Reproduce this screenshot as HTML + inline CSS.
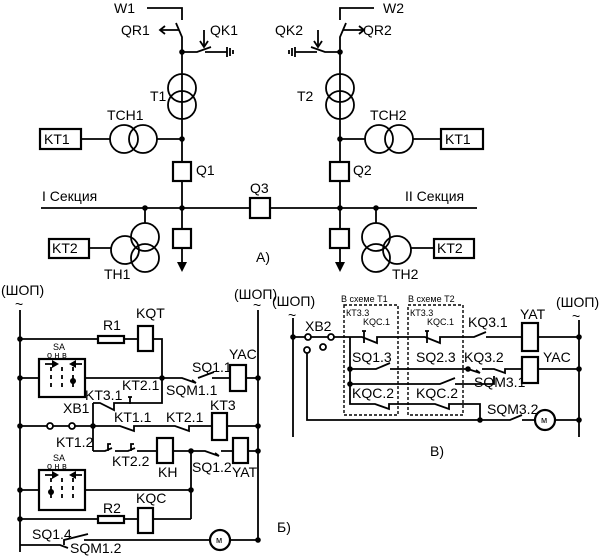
<!DOCTYPE html>
<html><head><meta charset="utf-8"><style>
html,body{margin:0;padding:0;background:#fff}
svg{display:block}
text{font-family:"Liberation Sans",sans-serif;font-size:14px;fill:#000}
.s{font-size:9px}
</style></head><body>
<svg width="600" height="557" viewBox="0 0 600 557" xmlns="http://www.w3.org/2000/svg">
<g stroke="#000" stroke-width="1.8" fill="none">
<!-- ===== A) ===== -->
<path d="M147 8 H182 V20"/>
<path d="M176 23 L182 37 V208"/>
<path d="M179 30 H161"/><path d="M165 26 L160 30 L165 34"/>
<path d="M204 30 V46"/><path d="M200 41 L204 47 L208 41"/>
<path d="M182 52 H197 L211 47 M205 52 H227"/><path d="M227 47 V57 M230 48 V56 M233 50 V54"/>
<circle cx="182" cy="88" r="14"/><circle cx="182" cy="105" r="14"/>
<path d="M81 139 H110 M157 139 H182"/>
<circle cx="124" cy="139" r="14"/><circle cx="143" cy="139" r="14"/>
<rect x="40" y="129" width="41" height="20" stroke-width="2.2"/>
<rect x="173" y="162" width="18" height="19" fill="#fff" stroke-width="2.2"/>
<path d="M41 208 H477"/>
<rect x="250" y="198" width="20" height="20" fill="#fff" stroke-width="2.2"/>
<path d="M182 208 V268"/>
<rect x="173" y="229" width="18" height="19" fill="#fff" stroke-width="2.2"/>
<path d="M145 208 V223"/>
<circle cx="145" cy="237" r="14"/><circle cx="125" cy="250" r="14"/><circle cx="145" cy="258" r="14"/>
<path d="M89 248 H111"/>
<rect x="49" y="239" width="40" height="19" stroke-width="2.2"/>
<!-- right -->
<path d="M374 8 H340 V20"/>
<path d="M346 23 L340 37 V208"/>
<path d="M343 30 H363"/><path d="M359 26 L364 30 L359 34"/>
<path d="M318 30 V46"/><path d="M314 41 L318 47 L322 41"/>
<path d="M340 52 H325 L311 47 M317 52 H295"/><path d="M295 47 V57 M292 48 V56 M289 50 V54"/>
<circle cx="340" cy="88" r="14"/><circle cx="340" cy="105" r="14"/>
<path d="M340 139 H365 M413 139 H441"/>
<circle cx="379" cy="139" r="14"/><circle cx="399" cy="139" r="14"/>
<rect x="441" y="129" width="42" height="20" stroke-width="2.2"/>
<rect x="330" y="162" width="19" height="19" fill="#fff" stroke-width="2.2"/>
<path d="M340 208 V268"/>
<rect x="330" y="229" width="19" height="19" fill="#fff" stroke-width="2.2"/>
<path d="M376 208 V223"/>
<circle cx="376" cy="237" r="14"/><circle cx="397" cy="250" r="14"/><circle cx="376" cy="258" r="14"/>
<path d="M411 248 H434"/>
<rect x="434" y="239" width="40" height="19" stroke-width="2.2"/>
</g>
<g fill="#000">
<path d="M177 262 L182 272 L187 262 Z"/><path d="M335 262 L340 272 L345 262 Z"/>
<circle cx="182" cy="52" r="2.8"/><circle cx="340" cy="52" r="2.8"/>
<circle cx="182" cy="139" r="2.8"/><circle cx="340" cy="139" r="2.8"/>
<circle cx="182" cy="208" r="2.8"/><circle cx="145" cy="208" r="2.8"/>
<circle cx="340" cy="208" r="2.8"/><circle cx="376" cy="208" r="2.8"/>
</g>
<text x="114" y="13">W1</text><text x="121" y="35">QR1</text><text x="210" y="35">QK1</text>
<text x="383" y="13">W2</text><text x="363" y="35">QR2</text><text x="275" y="35">QK2</text>
<text x="150" y="101">T1</text><text x="297" y="101">T2</text>
<text x="107" y="120">TCH1</text><text x="370" y="120">TCH2</text>
<text x="44" y="144">KT1</text><text x="445" y="144">KT1</text>
<text x="196" y="175">Q1</text><text x="353" y="175">Q2</text>
<text x="250" y="193">Q3</text>
<text x="42" y="201">I Секция</text><text x="405" y="201">II Секция</text>
<text x="52" y="253">KT2</text><text x="437" y="253">KT2</text>
<text x="104" y="279">TH1</text><text x="392" y="279">TH2</text>
<text x="256" y="262">A)</text>

<!-- ===== Б) ===== -->
<g stroke="#000" stroke-width="1.8" fill="none">
<path d="M20 310 V552"/><path d="M258 310 V540"/>
<path d="M20 339 H98 M124 339 H138 M153 339 H162 V403 H130"/>
<rect x="98" y="336" width="26" height="7" stroke-width="2.2"/>
<rect x="138" y="326" width="15" height="25" stroke-width="2.2"/>
<path d="M20 378 H39 M85 378 H182 L196 383 M192 380 L196 383 M198 378 L214 372 M212 378 H230 M246 378 H258"/>
<rect x="39" y="359" width="46" height="38" stroke-width="2.2"/>
<rect x="230" y="365" width="16" height="26" stroke-width="2.2"/>
<path d="M93 403 H100 L114 410 V403 H130"/>
<path d="M130 397 V404 M128 397 H132"/>
<path d="M93 403 V451"/>
<path d="M20 426 H47 M53 426 H69 M75 426 H120 L134 431 V426 H175 L189 431 V426 H212 M227 426 H258"/>
<circle cx="50" cy="426" r="3"/><circle cx="72" cy="426" r="3"/>
<rect x="212" y="413" width="15" height="27" stroke-width="2.2"/>
<path d="M93 451 H105 L112 448 M108 451 V444 H111 M115 451 H128 L135 448 M131 451 V444 H134 M137 451 H157 M173 451 H205 L219 456 M215 453 L219 456 M221 451 H233 M248 451 H258"/>
<rect x="157" y="438" width="16" height="25" stroke-width="2.2"/>
<rect x="233" y="438" width="15" height="25" stroke-width="2.2"/>
<path d="M191 451 V519"/>
<path d="M20 490 H39 M85 490 H191"/>
<rect x="39" y="470" width="46" height="40" stroke-width="2.2"/>
<path d="M20 519 H98 M124 519 H138 M153 519 H191"/>
<rect x="98" y="516" width="26" height="7" stroke-width="2.2"/>
<rect x="138" y="508" width="15" height="25" stroke-width="2.2"/>
<path d="M20 545 H60 L68 548 M64 545 V540 L88 534 M84 540 H210 M230 540 H258"/>
<circle cx="220" cy="540" r="10" stroke-width="2.2"/>
<path d="M45 364 H56 M73 364 H82 M51 367 V371 M51 375 V379 M51 383 V387 M62 367 V371 M62 375 V379 M62 383 V387 M73 367 V371 M73 375 V379 M73 383 V387"/>
<path d="M45 475 H56 M73 475 H82 M51 478 V482 M51 486 V490 M51 494 V498 M62 478 V482 M62 486 V490 M62 494 V498 M73 478 V482 M73 486 V490 M73 494 V498"/>
</g>
<g fill="#000">
<path d="M52 360 L59 364 L52 368Z"/><path d="M76 360 L69 364 L76 368Z"/>
<path d="M52 471 L59 475 L52 479Z"/><path d="M76 471 L69 475 L76 479Z"/>
<circle cx="73" cy="381" r="3"/><circle cx="51" cy="492" r="3"/>
<circle cx="20" cy="339" r="2.8"/><circle cx="20" cy="378" r="2.8"/><circle cx="20" cy="426" r="2.8"/>
<circle cx="20" cy="490" r="2.8"/><circle cx="20" cy="519" r="2.8"/>
<circle cx="162" cy="378" r="2.8"/><circle cx="93" cy="426" r="2.8"/>
<circle cx="191" cy="451" r="2.8"/><circle cx="191" cy="490" r="2.8"/>
<circle cx="258" cy="378" r="2.8"/><circle cx="258" cy="426" r="2.8"/><circle cx="258" cy="451" r="2.8"/><circle cx="258" cy="540" r="2.8"/>
</g>
<text x="1" y="295">(ШОП)</text><text x="15" y="309">~</text>
<text x="234" y="299">(ШОП)</text><text x="253" y="310">~</text>
<text x="103" y="330">R1</text><text x="136" y="318">KQT</text>
<text class="s" x="53" y="350">SA</text><text class="s" x="47" y="358">о н в</text>
<text x="229" y="359">YAC</text><text x="192" y="372">SQ1.1</text><text x="166" y="395">SQM1.1</text>
<text x="85" y="400">KT3.1</text><text x="122" y="390">KT2.1</text>
<text x="63" y="413">XB1</text>
<text x="114" y="422">KT1.1</text><text x="166" y="422">KT2.1</text><text x="210" y="410">KT3</text>
<text x="56" y="447">KT1.2</text><text x="112" y="466">KT2.2</text>
<text x="158" y="477">KH</text><text x="192" y="472">SQ1.2</text><text x="232" y="477">YAT</text>
<text class="s" x="53" y="461">SA</text><text class="s" x="47" y="469">о н в</text>
<text x="103" y="513">R2</text><text x="136" y="503">KQC</text>
<text x="32" y="539">SQ1.4</text><text x="70" y="553">SQM1.2</text>
<text class="s" x="216" y="543">м</text>
<text x="277" y="532">Б)</text>

<!-- ===== В) ===== -->
<g stroke="#000" stroke-width="1.8" fill="none">
<path d="M293 318 V437"/><path d="M579 320 V437"/>
<path d="M293 337 H305 M311 337 H328 M334 337 H362 L377 343 V337 H400 M400 337 H425 L440 343 V337 H474 L486 332 M486 337 H522 M538 337 H579"/>
<path d="M364 343 V331 M362 331 H366 M427 343 V331 M425 331 H429"/>
<circle cx="308" cy="337" r="3"/><circle cx="331" cy="337" r="3"/>
<circle cx="307" cy="350" r="3"/><circle cx="323" cy="347" r="3"/>
<rect x="522" y="323" width="16" height="28" stroke-width="2.2"/>
<path d="M350 337 V402"/>
<path d="M350 369 H376 L390 363 M390 369 H468 L480 373 M476 370 L480 373 M482 369 H494 L505 373 V369 H522 M538 369 H579"/>
<rect x="522" y="357" width="16" height="26" stroke-width="2.2"/>
<path d="M350 384 H440 L455 378 M455 384 H494 V376"/>
<path d="M350 402 V404 H375 L389 409 V404 H435 L449 409 V404 H480 V420"/>
<path d="M307 353 V420 H510 L522 415 M522 420 H535 M555 420 H579"/>
<circle cx="545" cy="420" r="10" stroke-width="2.2"/>
<path d="M344 305 H398 V415 H344 Z M408 305 H463 V415 H408 Z" stroke-dasharray="3,2" stroke-width="1.4"/>
</g>
<g fill="#000">
<circle cx="293" cy="337" r="2.8"/><circle cx="579" cy="337" r="2.8"/><circle cx="579" cy="369" r="2.8"/><circle cx="579" cy="420" r="2.8"/>
<circle cx="350" cy="369" r="2.8"/><circle cx="350" cy="384" r="2.8"/><circle cx="468" cy="369" r="2.8"/><circle cx="480" cy="420" r="2.8"/>
</g>
<text x="272" y="306">(ШОП)</text><text x="288" y="320">~</text>
<text x="556" y="307">(ШОП)</text><text x="572" y="321">~</text>
<text x="305" y="331">XB2</text>
<text class="s" x="341" y="302">В схеме Т1</text><text class="s" x="408" y="302">В схеме Т2</text>
<text class="s" x="346" y="316">КТ3.3</text><text class="s" x="410" y="316">КТ3.3</text>
<text class="s" x="363" y="325">KQC.1</text><text class="s" x="427" y="325">KQC.1</text>
<text x="468" y="327">KQ3.1</text><text x="520" y="319">YAT</text>
<text x="352" y="362">SQ1.3</text><text x="416" y="362">SQ2.3</text><text x="464" y="362">KQ3.2</text>
<text x="543" y="362">YAC</text><text x="474" y="387">SQM3.1</text>
<text x="352" y="398">KQC.2</text><text x="416" y="398">KQC.2</text>
<text x="487" y="414">SQM3.2</text>
<text class="s" x="541" y="423">м</text>
<text x="430" y="456">В)</text>
</svg>
</body></html>
